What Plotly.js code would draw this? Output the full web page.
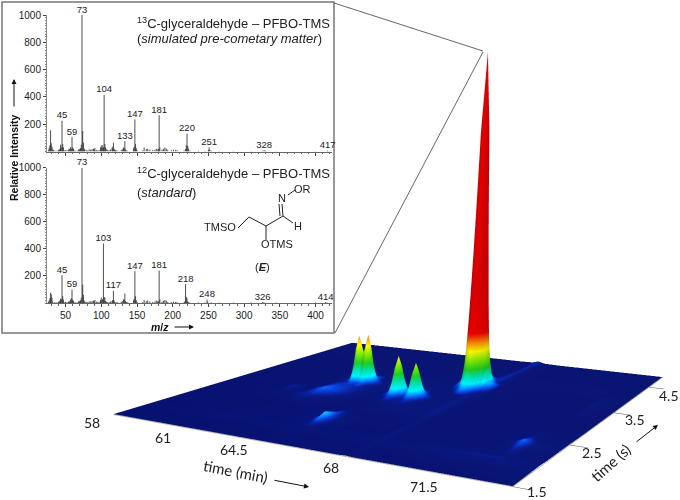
<!DOCTYPE html>
<html><head><meta charset="utf-8">
<script src="https://cdn.plot.ly/plotly-3.0.1.min.js"></script>
<style>html,body{margin:0;padding:0;background:#fff}#g{width:680px;height:500px}</style>
</head><body><div id="g"></div>
<script>
// ---------- mass spectra ----------
const mzTop=[26,27,28,29,30,31,32,33,35,38,40,41,42,43,44,45,46,47,48,50,52,54,55,56,57,58,59,60,61,62,64,66,68,69,70,71,72,73,74,75,76,77,79,81,83,85,87,89,90,91,93,95,97,99,100,101,102,103,104,105,106,107,109,111,113,115,116,117,118,119,120,121,123,128,130,131,132,133,134,135,137,145,146,147,148,149,150,158,160,163,165,168,172,175,177,179,180,181,182,185,187,189,191,193,198,201,204,206,216,218,219,220,221,222,224,236,245,250,251,252,254,265,285,310,326,328,330,345,400,417];
const valTop=[10,25,45,155,60,35,15,10,8,6,10,14,20,50,30,225,55,30,8,10,8,12,20,18,32,20,105,30,20,8,5,6,12,16,20,25,50,1000,150,65,22,14,10,8,15,12,18,20,14,25,12,8,12,30,45,25,45,30,415,55,30,18,12,10,14,25,35,65,20,12,8,8,6,12,16,30,25,75,15,8,6,22,35,235,55,25,10,8,30,18,20,14,10,12,20,15,18,265,30,14,20,28,22,12,10,14,12,10,8,18,45,130,40,22,8,6,5,12,30,12,6,4,4,3,5,10,5,3,3,8];
const mzBot=[26,27,28,29,30,31,32,35,38,40,41,42,43,44,45,46,47,48,50,52,54,55,56,57,58,59,60,61,62,64,66,68,69,70,71,72,73,74,75,76,77,79,81,83,85,87,89,90,91,93,95,97,99,100,101,102,103,104,105,106,107,109,111,113,115,116,117,118,119,121,123,128,130,131,132,133,134,135,137,145,146,147,148,149,150,158,160,163,165,168,172,175,177,179,180,181,182,185,187,189,191,193,198,201,204,206,216,217,218,219,220,221,222,224,236,245,248,249,254,265,285,310,326,328,345,400,414,416];
const valBot=[8,20,35,75,65,40,12,7,5,8,12,18,32,28,205,50,25,6,8,6,8,14,12,25,35,100,25,16,6,4,5,10,14,16,20,40,1000,135,60,18,12,8,6,12,10,15,18,12,22,10,8,10,22,40,20,30,440,45,40,15,10,8,7,10,14,22,90,18,8,6,5,10,14,28,22,70,14,8,5,18,30,235,50,20,8,6,22,14,18,12,8,10,18,14,12,240,25,10,16,22,18,8,6,10,8,7,6,12,140,45,35,12,6,4,4,4,25,8,3,3,3,3,8,4,3,3,6,3];
const labelsTopMz=[45,59,73,104,133,147,181,220,251,328,417];
const labelsTopVal=[225,105,1000,415,75,235,265,130,30,10,8];
const labelsBotMz=[45,59,73,103,117,147,181,218,248,326,414];
const labelsBotVal=[205,100,1000,440,90,235,240,140,25,8,6];
const intensityTicks=[200,400,600,800,1000];
const mzTicks=[50,100,150,200,250,300,350,400];

// ---------- GC×GC surface: first-dimension time (min), second-dimension time (s), response ----------
const planeT=[58,59.5,60.6,61.1,61.6,62,62.6,63.2,63.8,64.6,64.85,65.05,65.25,65.5,66.3,67.1,67.7,68,68.3,69,70,71.5,72,72.3,72.6,73.6];
const planeS=[1.5,1.75,1.95,2.05,2.19,2.35,2.5,2.75,2.95,3.14,3.39,3.75,4.1,4.5,4.95];
const planeZ=[
[1,1,1,1,1,1,1,1,1,1,1,1,1,1,1,1,1,2,1,1,1,1,1,1,1,1],
[1,1,1,1,1,1,1,1,1,2,2,2,2,2,2,2,2,3,2,2,2,2,2,2,2,2],
[1,2,2,3,3,3,3,3,3,3,4,4,4,3,3,3,3,4,3,3,4,5,5,5,4,3],
[1,1,2,2,2,2,2,2,2,3,5,8,5,3,2,2,2,4,2,2,3,3,3,4,3,2],
[1,1,1,2,2,2,2,2,2,4,10,25,10,4,2,2,2,4,2,2,2,2,3,6,3,2],
[1,1,1,1,1,2,2,2,2,3,6,10,6,3,2,2,2,4,2,2,2,2,5,14,5,2],
[1,1,1,1,1,2,2,2,2,2,3,3,3,2,2,2,3,4,2,2,2,2,3,5,3,2],
[1,1,2,3,3,5,6,4,3,2,2,2,2,3,4,4,4,5,2,2,2,2,2,2,2,1],
[1,1,2,6,3,4,14,9,5,3,3,4,4,5,5,4,4,5,2,2,2,2,1,1,1,1],
[1,1,1,2,2,3,9,8,5,3,3,4,5,6,6,4,4,5,2,2,2,1,1,1,1,1],
[1,1,1,1,1,3,5,6,5,3,3,3,4,4,4,3,4,5,2,2,1,1,1,1,3,1],
[1,1,1,1,1,2,3,3,3,2,2,2,2,3,3,3,5,6,2,2,1,1,1,1,4,1],
[1,1,1,1,1,1,1,2,2,2,2,2,2,2,2,2,5,7,2,2,2,2,2,2,1,1],
[1,1,1,1,1,1,1,1,1,1,1,1,1,1,1,1,2,6,2,1,1,1,1,1,1,1],
[1,1,1,1,1,1,1,1,1,1,1,1,1,1,1,1,2,8,2,1,1,1,1,1,1,1]];

const mainT=[66.7,67.0,67.12,67.21,67.30,67.385,67.47,67.56,67.65,67.735,67.82,67.91,68.0,68.12,68.45];
const mainS=[3.36,3.484,3.54,3.58,3.62,3.66,3.70,3.74,3.78,3.82,3.86,3.90,3.94,3.996,4.12];
const mainZ=[
[3,3,3,3,3,3,3,3,3,3,3,3,3,3,3],
[3,4,5,7,11,16,22,24,22,16,11,7,5,4,3],
[3,5,8,13,24,41,57,64,57,41,24,13,8,5,3],
[3,7,13,26,54,96,136,154,136,96,54,26,13,7,3],
[3,11,24,54,113,205,294,334,294,205,113,54,24,11,3],
[3,16,41,96,205,376,541,614,541,376,205,96,41,16,3],
[3,22,57,136,294,541,778,884,778,541,294,136,57,22,3],
[3,24,64,154,334,614,884,1000,884,614,334,154,64,24,3],
[3,22,57,136,294,541,778,884,778,541,294,136,57,22,3],
[3,16,41,96,205,376,541,614,541,376,205,96,41,16,3],
[3,11,24,54,113,205,294,334,294,205,113,54,24,11,3],
[3,7,13,26,54,96,136,154,136,96,54,26,13,7,3],
[3,5,8,13,24,41,57,64,57,41,24,13,8,5,3],
[3,4,5,7,11,16,22,24,22,16,11,7,5,4,3],
[3,3,3,3,3,3,3,3,3,3,3,3,3,3,3]];

const pairAT=[62.2,62.55,62.66,62.74,62.82,62.89,62.96,63.03,63.10,63.18,63.25,63.32,63.40,63.47,63.54,63.62,63.72,63.85,64.2];
const pairAS=[3.1,3.25,3.295,3.33,3.36,3.39,3.42,3.45,3.485,3.53,3.7];
const pairAZ=[
[3,3,3,3,3,3,3,3,3,3,3,3,3,3,3,3,3,3,3],
[3,3,4,5,8,11,12,11,10,9,10,11,12,11,8,5,4,3,3],
[3,4,6,11,19,29,33,30,25,23,25,30,34,30,20,11,6,4,3],
[3,6,11,22,44,67,78,71,59,53,58,71,81,70,45,22,10,6,3],
[3,8,16,35,72,111,129,116,97,87,95,116,133,115,74,35,15,7,3],
[3,9,19,41,85,131,153,138,115,103,113,138,158,136,87,41,17,8,3],
[3,8,16,35,72,111,129,116,97,87,95,116,133,115,74,35,15,7,3],
[3,6,11,22,44,67,78,71,59,53,58,71,81,70,45,22,10,6,3],
[3,4,6,11,19,29,33,30,25,23,25,30,34,30,20,11,6,4,3],
[3,3,4,5,8,11,12,11,10,9,10,11,12,11,8,5,4,3,3],
[3,3,3,3,3,3,3,3,3,3,3,3,3,3,3,3,3,3,3]];

const pairBT=[64.8,65.05,65.16,65.24,65.32,65.41,65.5,65.59,65.68,65.76,65.88,65.98,66.08,66.18,66.27,66.36,66.46,66.56,66.66,66.8,67.05];
const pairBS=[2.85,2.986,3.035,3.074,3.107,3.14,3.173,3.206,3.245,3.294,3.43];
const pairBZ=[
[3,3,3,3,3,3,3,3,3,3,3,3,3,3,3,3,3,3,3,3,3],
[3,3,4,5,6,9,10,9,6,5,4,4,6,8,9,8,6,4,3,3,3],
[3,4,5,8,14,23,27,23,14,8,5,7,12,20,24,20,12,7,5,4,3],
[3,6,9,16,31,52,63,52,31,16,9,12,25,46,56,46,25,12,7,5,3],
[3,7,13,25,49,85,104,85,49,25,13,18,40,74,91,74,40,18,10,6,3],
[3,8,15,29,58,101,123,101,58,29,15,21,47,88,108,88,47,21,11,6,3],
[3,7,13,25,49,85,104,85,49,25,13,18,40,74,91,74,40,18,10,6,3],
[3,6,9,16,31,52,63,52,31,16,9,12,25,46,56,46,25,12,7,5,3],
[3,4,5,8,14,23,27,23,14,8,5,7,12,20,24,20,12,7,5,4,3],
[3,3,4,5,6,9,10,9,6,5,4,4,6,8,9,8,6,4,3,3,3],
[3,3,3,3,3,3,3,3,3,3,3,3,3,3,3,3,3,3,3,3,3]];

const timeMinTicks=[58,61,64.5,68,71.5];
const timeSecTicks=[1.5,2.5,3.5,4.5];
const timeMinRange=[58,73.6];
const timeSecRange=[1.5,4.95];

// ---------- helpers: oblique floor of the 3-D scene ----------
const SHEAR=0.3728, DEPTH=0.807, HEIGHT=0.94;
const U=t=>(t-timeMinRange[0])/(timeMinRange[1]-timeMinRange[0]);
const V=s=>(s-timeSecRange[0])/(timeSecRange[1]-timeSecRange[0]);
const wx=(t,s)=>U(t)+SHEAR*V(s);
const wy=(t,s)=>DEPTH*V(s);
const px=x=>x/680, py=y=>1-y/500;

const colorscale=[[0,'#000a68'],[0.01,'#000e74'],[0.02,'#001a9c'],[0.037,'#0044e0'],[0.06,'#0090ff'],[0.095,'#00f0ff'],[0.167,'#00e0a0'],[0.233,'#20d020'],[0.333,'#90f000'],[0.417,'#ffff00'],[0.5,'#ff9000'],[0.6,'#f00000'],[1,'#e00000']];
const lighting={ambient:0.72,diffuse:0.5,specular:0.05,roughness:0.6,fresnel:0};
const lightposition={x:1000,y:-10000,z:1000};
function surf(T,S,Z){
  return {type:'surface',
    x:S.map(s=>T.map(t=>wx(t,s))),
    y:S.map(s=>T.map(t=>wy(t,s))),
    z:Z,surfacecolor:Z,colorscale,cmin:0,cmax:300,cauto:false,showscale:false,lighting,lightposition,hoverinfo:'skip',scene:'scene'};
}
function tickLine(xs,ys){return {type:'scatter3d',mode:'lines',x:xs,y:ys,z:xs.map(v=>v===null?null:0),line:{color:'#555',width:1},hoverinfo:'skip',showlegend:false,scene:'scene'};}
const tmX=[],tmY=[];
timeMinTicks.forEach(t=>{tmX.push(wx(t,1.5),wx(t,1.33),null);tmY.push(wy(t,1.5),wy(t,1.33),null);});
const tsX=[],tsY=[];
timeSecTicks.forEach(s=>{tsX.push(wx(73.6,s),wx(74.2,s),null);tsY.push(wy(73.6,s),wy(74.2,s),null);});
const edgeT=[58,73.6,73.6], edgeS=[1.5,1.5,4.95];

function sticks(mz,val,xa,ya){const x=[],y=[];mz.forEach((m,i)=>{x.push(m,m,null);y.push(0,val[i],null);});
  return {type:'scatter',mode:'lines',x,y,line:{color:'#222',width:0.8},hoverinfo:'skip',showlegend:false,xaxis:xa,yaxis:ya};}
const labelCommon={type:'scatter',mode:'text',textposition:'top center',textfont:{family:'Liberation Sans',size:9.5,color:'#222'},cliponaxis:false,hoverinfo:'skip',showlegend:false};

const data=[
  surf(planeT,planeS,planeZ),surf(pairAT,pairAS,pairAZ),surf(pairBT,pairBS,pairBZ),surf(mainT,mainS,mainZ),
  tickLine(tmX,tmY),tickLine(tsX,tsY),
  {type:'scatter3d',mode:'lines',x:edgeT.map((t,i)=>wx(t,edgeS[i])),y:edgeT.map((t,i)=>wy(t,edgeS[i])),z:[0,0,0],line:{color:'#b0b0b0',width:2},hoverinfo:'skip',showlegend:false,scene:'scene'},
  sticks(mzTop,valTop,'x','y'),
  sticks(mzBot,valBot,'x2','y2'),
  Object.assign({},labelCommon,{x:labelsTopMz,y:labelsTopVal,text:labelsTopMz.map(String),xaxis:'x',yaxis:'y'}),
  Object.assign({},labelCommon,{x:labelsBotMz,y:labelsBotVal,text:labelsBotMz.map(String),xaxis:'x2',yaxis:'y2'})
];

function xAxis(anchor,labels){return {domain:[px(47),px(332)],range:[24,423],anchor,tickvals:mzTicks,showticklabels:labels,ticks:'outside',ticklen:3,tickcolor:'#444',showline:true,linecolor:'#666',linewidth:1,showgrid:false,zeroline:false,tickfont:{family:'Liberation Sans',size:10,color:'#222'},minor:{dtick:10,ticks:'outside',ticklen:1.5,tickcolor:'#666'}};}
function yAxis(anchor,top,bottom){return {domain:[py(bottom),py(top)],range:[0,1000],anchor,tickvals:intensityTicks,ticks:'outside',ticklen:3,tickcolor:'#444',showline:true,linecolor:'#888',linewidth:1,showgrid:false,zeroline:false,tickfont:{family:'Liberation Sans',size:10,color:'#222'},minor:{dtick:20,ticks:'outside',ticklen:1.5,tickcolor:'#888'}};}

const TX=(text,x,y,opt)=>Object.assign({text,x:px(x),y:py(y),xref:'paper',yref:'paper',showarrow:false,xanchor:'center',yanchor:'middle',font:{family:'Liberation Sans',size:13,color:'#222'}},opt||{});
const calibri={family:'Lato',size:14,color:'#222'};
const arrow=(x0,y0,x1,y1,w,c)=>({x:px(x1),y:py(y1),xref:'paper',yref:'paper',text:'',showarrow:true,ax:x0-x1,ay:y0-y1,axref:'pixel',ayref:'pixel',arrowhead:2,arrowsize:1,arrowwidth:w||1,arrowcolor:c||'#111'});

const minLabelPos=[[92,422],[163,437],[234,449],[331,467],[424,486]];
const secLabelPos=[[537,491],[592,452],[635,419],[669,395]];
const chem={family:'Liberation Sans',size:11,color:'#222'};

const annotations=[
  TX('<sup>13</sup>C-glyceraldehyde – PFBO-TMS',135,23,{xanchor:'left'}),
  TX('(<i>simulated pre-cometary matter</i>)',135,39,{xanchor:'left'}),
  TX('<sup>12</sup>C-glyceraldehyde – PFBO-TMS',135,173,{xanchor:'left'}),
  TX('(<i>standard</i>)',135,192,{xanchor:'left'}),
  TX('<b>Relative Intensity</b>',14,158,{textangle:-90,font:{family:'Liberation Sans',size:10.5,color:'#111'}}),
  arrow(14,108,14,79),
  TX('<b><i>m</i>/<i>z</i></b>',160,327,{font:{family:'Liberation Sans',size:10.5,color:'#111'}}),
  arrow(173,327,194,327),
  TX('TMSO',220,227,{font:chem}),
  TX('N',282,198,{font:chem}),
  TX('OR',302,189,{font:chem}),
  TX('H',298,226,{font:chem}),
  TX('OTMS',277,244,{font:chem}),
  TX('(<b><i>E</i></b>)',262,267,{font:chem}),
  TX('time (min)',235,471,{textangle:11,font:{family:'Lato',size:15,color:'#222'}}),
  arrow(273,480,309,487),
  TX('time (s)',610,463,{textangle:-42,font:{family:'Lato',size:15,color:'#222'}}),
  arrow(635,443,658,425)
];
timeMinTicks.forEach((t,i)=>annotations.push(TX(String(t),minLabelPos[i][0],minLabelPos[i][1],{font:calibri})));
timeSecTicks.forEach((s,i)=>annotations.push(TX(String(s),secLabelPos[i][0],secLabelPos[i][1],{font:calibri})));

const L=(x0,y0,x1,y1,c,w)=>({type:'line',xref:'paper',yref:'paper',x0:px(x0),y0:py(y0),x1:px(x1),y1:py(y1),line:{color:c||'#222',width:w||1}});
const shapes=[
  {type:'rect',xref:'paper',yref:'paper',x0:px(2),y0:py(2),x1:px(334),y1:py(333),line:{color:'#777',width:1.5},fillcolor:'rgba(255,255,255,0)',layer:'below'},
  L(334,3,483,51,'#666',1),L(335,333,483,52,'#666',1),
  L(238,228,249,217),L(249,217,266,226),L(266,226,283,216),L(283,216,282,204),L(280,216,279,204),
  L(288,195,295,190),L(283,216,293,223),L(266,226,266,240)
];

const layout={width:680,height:500,margin:{l:0,r:0,t:0,b:0},paper_bgcolor:'#fff',plot_bgcolor:'rgba(0,0,0,0)',showlegend:false,
  xaxis:xAxis('y',false),yaxis:yAxis('x',15,151.5),xaxis2:xAxis('y2',true),yaxis2:yAxis('x2',167.7,303),
  scene:{domain:{x:[0,1],y:[0,1]},bgcolor:'rgba(0,0,0,0)',aspectmode:'manual',aspectratio:{x:1+SHEAR,y:DEPTH,z:HEIGHT},
    xaxis:{range:[0,1+SHEAR],visible:false},yaxis:{range:[0,DEPTH],visible:false},zaxis:{range:[0,1000],visible:false},
    camera:{eye:{x:0.3867,y:-1.5898,z:0.1789},center:{x:-0.1696,y:-0.1076,z:-0.0526},up:{x:0,y:0,z:1},projection:{type:'perspective'}}},
  annotations,shapes};
Plotly.newPlot('g',data,layout,{displayModeBar:false});
</script></body></html>
